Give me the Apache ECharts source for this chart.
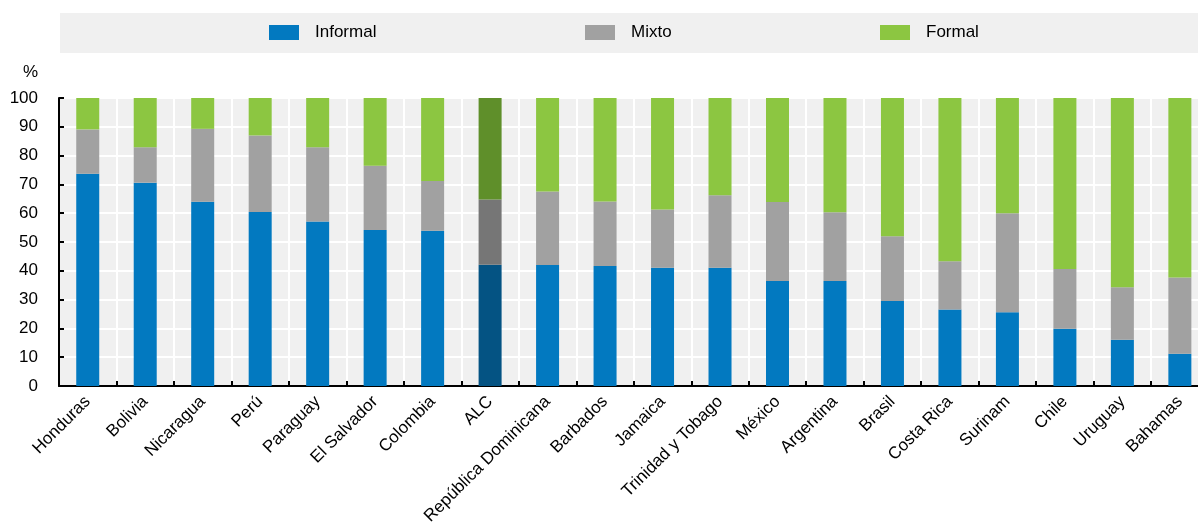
<!DOCTYPE html>
<html>
<head>
<meta charset="utf-8">
<script src="https://cdn.jsdelivr.net/npm/echarts@6/dist/echarts.min.js"></script>
<style>
html,body{margin:0;padding:0;background:#fff;}
#chart{width:1198px;height:524px;}
</style>
</head>
<body>
<div id="chart"></div>
<script>
const categories = ['Honduras','Bolivia','Nicaragua','Perú','Paraguay','El Salvador','Colombia','ALC','República Dominicana','Barbados','Jamaica','Trinidad y Tobago','México','Argentina','Brasil','Costa Rica','Surinam','Chile','Uruguay','Bahamas'];
const informal = [73.7,70.6,64.0,60.4,57.1,54.2,53.9,42.1,42.0,41.7,41.1,41.1,36.5,36.5,29.5,26.6,25.6,19.9,16.1,11.2];
const mixto    = [15.4,12.3,25.3,26.6,25.8,22.3,17.3,22.7,25.5,22.4,20.2,25.1,27.4,23.8,22.5,16.7,34.4,20.7,18.2,26.5];
const formal   = [10.9,17.1,10.7,13.0,17.1,23.5,28.8,35.2,32.5,35.9,38.7,33.8,36.1,39.7,48.0,56.7,40.0,59.4,65.7,62.3];
const yTicks = [0,10,20,30,40,50,60,70,80,90,100];
const highlight = 'ALC';

const FONT = "'Liberation Sans',Arial,sans-serif";
const FS = 17;
const colors = {Informal:'#0279c0', Mixto:'#a1a1a1', Formal:'#8cc641'};
const dark = {Informal:'#045383', Mixto:'#767676', Formal:'#5f8f2a'};

function mk(name, vals){
  return {
    name: name, type:'bar', stack:'t', barWidth:23,
    itemStyle:{color:colors[name]},
    data: vals.map((v,i)=> categories[i]===highlight ? {value:v,itemStyle:{color:dark[name]}} : v)
  };
}

const chart = echarts.init(document.getElementById('chart'), null, {renderer:'canvas'});
const legendBase = {
  top:24, padding:0, itemWidth:30, itemHeight:15, icon:'rect',
  textStyle:{fontFamily:FONT, fontSize:FS, color:'#000', padding:[2,0,0,11]}
};
chart.setOption({
  animation:false,
  textStyle:{fontFamily:FONT},
  graphic:[
    {type:'rect', left:60, top:13, shape:{width:1138, height:40}, style:{fill:'#f0f0f0'}, z:-10},
    {type:'text', left:23, top:64, style:{text:'%', font:FS+"px "+FONT, fill:'#000'}}
  ],
  legend:[
    Object.assign({left:269, data:['Informal']}, legendBase),
    Object.assign({left:585, data:['Mixto']}, legendBase),
    Object.assign({left:880, data:['Formal']}, legendBase)
  ],
  grid:{left:59, top:98, width:1149.6, height:288, show:true, backgroundColor:'#f0f0f0', borderWidth:0,
        containLabel:false, outerBoundsMode:'none'},
  xAxis:{
    type:'category', data:categories,
    axisLine:{lineStyle:{color:'#000', width:2}},
    axisTick:{show:true, inside:true, length:5, lineStyle:{color:'#000', width:2}},
    splitLine:{show:true, lineStyle:{color:'#fff', width:2}},
    axisLabel:{rotate:45, fontSize:FS, color:'#000', fontFamily:FONT, margin:13, interval:0}
  },
  yAxis:{
    type:'value', min:0, max:100, interval:10,
    axisLine:{show:true, lineStyle:{color:'#000', width:2}},
    axisTick:{show:true, inside:true, length:5, lineStyle:{color:'#000', width:2}},
    splitLine:{show:true, lineStyle:{color:'#fff', width:2}},
    axisLabel:{fontSize:FS, color:'#000', fontFamily:FONT, margin:21,
      formatter: v => yTicks.includes(v) ? String(v) : ''}
  },
  series:[mk('Informal',informal), mk('Mixto',mixto), mk('Formal',formal)]
});
</script>
</body>
</html>
